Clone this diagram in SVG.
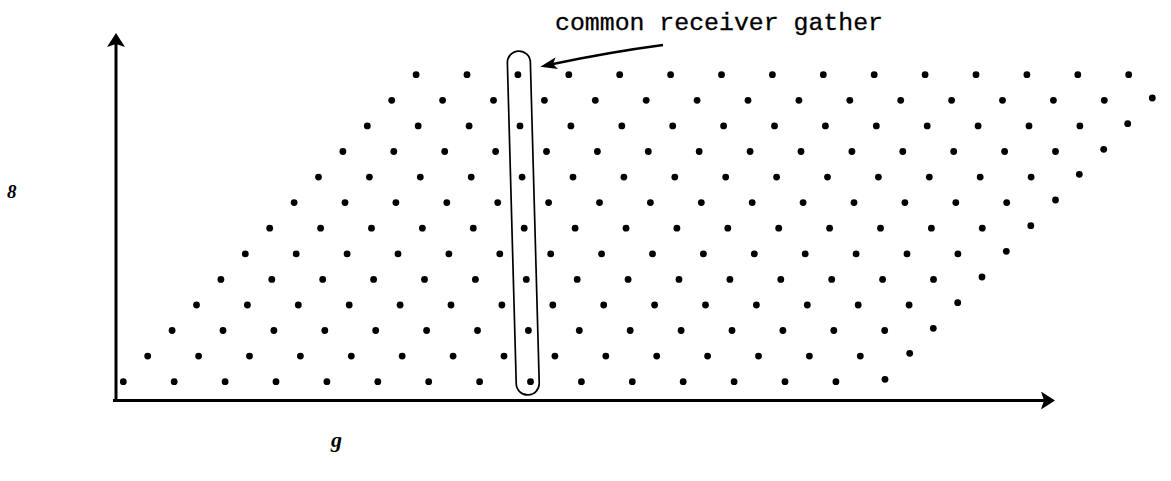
<svg xmlns="http://www.w3.org/2000/svg" xmlns:xlink="http://www.w3.org/1999/xlink" width="1171" height="481" viewBox="0 0 1171 481">
<style>
.ax{stroke:#000;stroke-width:3;fill:none}
.dot{fill:#000}
.cap{fill:none;stroke:#000;stroke-width:1.7}
.lead{fill:none;stroke:#000;stroke-width:2.4}
.lbl{font-family:"Liberation Serif",serif;font-style:italic;font-weight:bold;fill:#000}
.note{font-family:"Liberation Mono",monospace;font-size:24px;fill:#000;stroke:#000;stroke-width:0.3}
</style>
<defs>
<marker id="axhead" viewBox="0 0 14 18" refX="3" refY="9" markerWidth="14" markerHeight="18" orient="auto" markerUnits="userSpaceOnUse">
<path d="M0,0 L14,9 L0,18 L3,9 z" fill="#000"/>
</marker>
<marker id="leadhead" viewBox="0 0 17 12" refX="4" refY="6" markerWidth="17" markerHeight="12" orient="auto" markerUnits="userSpaceOnUse">
<path d="M0,0 L17,6 L0,12 L4,6 z" fill="#000"/>
</marker>
<circle id="d" r="3.4" class="dot"/>
<g id="row">
<use xlink:href="#d" x="0"/><use xlink:href="#d" x="50.9"/><use xlink:href="#d" x="101.8"/><use xlink:href="#d" x="152.7"/><use xlink:href="#d" x="203.6"/><use xlink:href="#d" x="254.5"/><use xlink:href="#d" x="305.4"/><use xlink:href="#d" x="356.3"/><use xlink:href="#d" x="407.2"/><use xlink:href="#d" x="458.1"/><use xlink:href="#d" x="509"/><use xlink:href="#d" x="559.9"/><use xlink:href="#d" x="610.8"/><use xlink:href="#d" x="661.7"/><use xlink:href="#d" x="712.6"/>
</g>
</defs>
<rect width="1171" height="481" fill="#fff"/>

<g id="axes">
<line class="ax" x1="116" y1="401" x2="116" y2="44" marker-end="url(#axhead)"/>
<line class="ax" x1="113" y1="400.5" x2="1044" y2="400.5" marker-end="url(#axhead)"/>
</g>

<g id="dots">
<use xlink:href="#row" x="123.3" y="381.7"/>
<use xlink:href="#row" x="147.7" y="356.1"/>
<use xlink:href="#row" x="172.1" y="330.5"/>
<use xlink:href="#row" x="196.5" y="305"/>
<use xlink:href="#row" x="220.9" y="279.4"/>
<use xlink:href="#row" x="245.3" y="253.8"/>
<use xlink:href="#row" x="269.7" y="228.2"/>
<use xlink:href="#row" x="294.1" y="202.6"/>
<use xlink:href="#row" x="318.5" y="177.1"/>
<use xlink:href="#row" x="342.9" y="151.5"/>
<use xlink:href="#row" x="367.3" y="125.9"/>
<use xlink:href="#row" x="391.7" y="100.3"/>
<use xlink:href="#row" x="416.1" y="74.7"/>
<use xlink:href="#d" x="885" y="379.3"/>
<use xlink:href="#d" x="909.7" y="353.3"/>
<use xlink:href="#d" x="933.3" y="328.3"/>
<use xlink:href="#d" x="957.7" y="302.7"/>
<use xlink:href="#d" x="982" y="277"/>
<use xlink:href="#d" x="1006.3" y="251.3"/>
<use xlink:href="#d" x="1030.8" y="225.7"/>
<use xlink:href="#d" x="1055.5" y="200"/>
<use xlink:href="#d" x="1079.3" y="174.3"/>
<use xlink:href="#d" x="1103.7" y="149.3"/>
<use xlink:href="#d" x="1127.7" y="123.7"/>
<use xlink:href="#d" x="1152.3" y="98"/>
</g>

<g id="gather">
<rect class="cap" x="-11.5" y="-172" width="23" height="344" rx="11.5" transform="translate(523.3,223) rotate(-1.58)"/>
</g>

<g id="connectors">
<path class="lead" d="M663,45 Q610,52 553,64" marker-end="url(#leadhead)"/>
</g>

<g id="labels">
<text class="note" x="555" y="30" textLength="328" lengthAdjust="spacingAndGlyphs">common receiver gather</text>
<text class="lbl" x="7" y="198" font-size="19">8</text>
<text class="lbl" x="331" y="447" font-size="22">g</text>
</g>
</svg>
